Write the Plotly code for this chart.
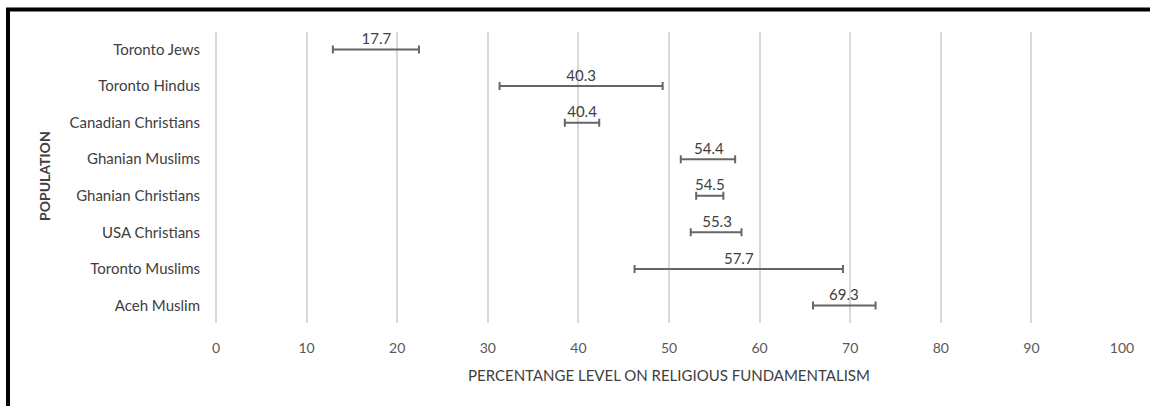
import plotly.graph_objects as go

# Populations, top to bottom
populations = [
    "Toronto Jews",
    "Toronto Hindus",
    "Canadian Christians",
    "Ghanian Muslims",
    "Ghanian Christians",
    "USA Christians",
    "Toronto Muslims",
    "Aceh Muslim",
]
# Mean percentage level on religious fundamentalism
means = [17.7, 40.3, 40.4, 54.4, 54.5, 55.3, 57.7, 69.3]
# Error extents below / above the mean
err_minus = [4.8, 9.0, 1.9, 3.1, 1.5, 2.9, 11.5, 3.4]
err_plus = [4.7, 9.0, 1.9, 2.9, 1.5, 2.7, 11.5, 3.5]
# Axis ticks
x_ticks = [0, 10, 20, 30, 40, 50, 60, 70, 80, 90, 100]

FONT = "Lato"
TEXT = "#404040"
TICK = "#595959"

fig = go.Figure()
fig.add_trace(go.Scatter(
    x=means,
    y=populations,
    mode="markers+text",
    marker=dict(size=1, color="rgba(0,0,0,0)"),
    text=[f"{v:.1f}" for v in means],
    textposition="top center",
    textfont=dict(family=FONT, size=15, color=TEXT),
    error_x=dict(
        type="data",
        symmetric=False,
        array=err_plus,
        arrayminus=err_minus,
        color="#666666",
        thickness=2,
        width=4,
    ),
    showlegend=False,
    cliponaxis=False,
))

L, R, T, B = 216, 28, 32, 83
W, H = 1150, 406
pw, ph = W - L - R, H - T - B

def px_x(p):
    return (p - L) / pw

def px_y(p):
    return (H - B - p) / ph

fig.update_layout(
    width=W,
    height=H,
    margin=dict(l=L, r=R, t=T, b=B),
    paper_bgcolor="white",
    plot_bgcolor="white",
    font=dict(family=FONT, color=TEXT),
    xaxis=dict(
        range=[0, 100],
        tickvals=x_ticks,
        ticktext=[str(v) for v in x_ticks],
        showgrid=True,
        gridcolor="#d9d9d9",
        gridwidth=2,
        zeroline=True,
        zerolinecolor="#d9d9d9",
        zerolinewidth=2,
        showline=False,
        ticks="",
        ticklabelstandoff=15,
        tickfont=dict(family=FONT, size=14, color=TICK),
        fixedrange=True,
    ),
    yaxis=dict(
        categoryorder="array",
        categoryarray=populations,
        autorange="reversed",
        showgrid=False,
        zeroline=False,
        showline=False,
        ticks="",
        ticklabelstandoff=15,
        tickfont=dict(family=FONT, size=15, color=TEXT),
        fixedrange=True,
    ),
    annotations=[
        dict(
            text="PERCENTANGE LEVEL ON RELIGIOUS FUNDAMENTALISM",
            xref="paper", yref="paper",
            x=0.5, y=px_y(375),
            xanchor="center", yanchor="middle",
            showarrow=False,
            font=dict(family=FONT, size=15, color=TEXT),
        ),
        dict(
            text="<b>POPULATION</b>",
            xref="paper", yref="paper",
            x=px_x(44), y=px_y(176),
            xanchor="center", yanchor="middle",
            textangle=-90,
            showarrow=False,
            font=dict(family=FONT, size=14, color=TEXT),
        ),
    ],
    shapes=[
        dict(type="line", xref="paper", yref="paper",
             x0=px_x(6), x1=px_x(1160), y0=px_y(9.5), y1=px_y(9.5),
             line=dict(color="black", width=4)),
        dict(type="line", xref="paper", yref="paper",
             x0=px_x(8), x1=px_x(8), y0=px_y(8), y1=px_y(420),
             line=dict(color="black", width=4)),
    ],
)

fig.write_html("out.html")
